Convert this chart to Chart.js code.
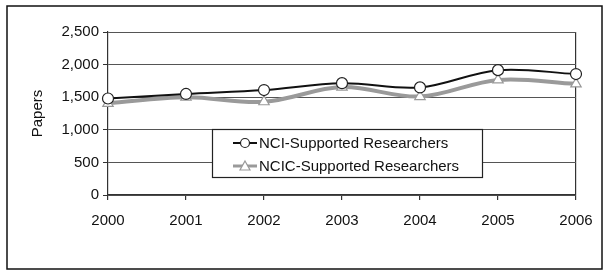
<!DOCTYPE html>
<html>
<head>
<meta charset="utf-8">
<script src="https://cdn.jsdelivr.net/npm/chart.js@4/dist/chart.umd.min.js"></script>
<style>
  html, body { margin: 0; padding: 0; background: #fff; }
  #wrap { width: 609px; height: 274px; position: relative; }
</style>
</head>
<body>
<div id="wrap"><canvas id="papersChart"></canvas></div>
<script>
const years = ["2000", "2001", "2002", "2003", "2004", "2005", "2006"];
const nciPapers = [1480, 1550, 1610, 1715, 1650, 1915, 1855];
const ncicPapers = [1405, 1500, 1430, 1655, 1510, 1765, 1705];
const seriesNames = ["NCI-Supported Researchers", "NCIC-Supported Researchers"];
const yMax = 2500;
const yStep = 500;

const FONT = "'Liberation Sans', Arial, sans-serif";

// outer frame + legend box drawn inside the plot
const framePlugin = {
    id: "frame",
    beforeDraw(chart) {
        const c = chart.ctx;
        c.save();
        c.fillStyle = "#fff";
        c.fillRect(0, 0, chart.width, chart.height);
        c.strokeStyle = "#111";
        c.lineWidth = 1.5;
        c.strokeRect(7, 6, chart.width - 14, chart.height - 11);
        c.restore();
    },
    afterDraw(chart) {
        const c = chart.ctx;
        const area = chart.chartArea;
        const x0 = area.left + 104;
        const y0 = area.top + 97;
        const w = 270, h = 48;
        c.save();
        c.fillStyle = "#fff";
        c.fillRect(x0, y0, w, h);
        c.strokeStyle = "#222";
        c.lineWidth = 1.2;
        c.strokeRect(x0 + 0.5, y0 + 0.5, w, h);
        c.font = "15px " + FONT;
        c.textBaseline = "middle";
        chart.data.datasets.forEach((ds, i) => {
            const cy = y0 + 14 + i * 23;
            c.strokeStyle = ds.borderColor;
            c.lineWidth = i === 0 ? 2 : 3;
            c.beginPath();
            c.moveTo(x0 + 21, cy);
            c.lineTo(x0 + 45, cy);
            c.stroke();
            c.fillStyle = "#fff";
            c.lineWidth = 1.2;
            c.strokeStyle = ds.pointBorderColor;
            c.beginPath();
            if (i === 0) {
                c.arc(x0 + 33, cy, 4.5, 0, Math.PI * 2);
            } else {
                c.moveTo(x0 + 33, cy - 5);
                c.lineTo(x0 + 38, cy + 4);
                c.lineTo(x0 + 28, cy + 4);
                c.closePath();
            }
            c.fill();
            c.stroke();
            c.fillStyle = "#111";
            c.fillText(ds.label, x0 + 47, cy + 1);
        });
        c.restore();
    }
};

new Chart(document.getElementById("papersChart"), {
    type: "line",
    data: {
        labels: years,
        datasets: [
            {
                label: seriesNames[0],
                data: nciPapers,
                borderColor: "#111",
                borderWidth: 2,
                pointStyle: "circle",
                pointRadius: 5.5,
                pointBackgroundColor: "#fff",
                pointBorderColor: "#222",
                pointBorderWidth: 1.2,
                tension: 0.35
            },
            {
                label: seriesNames[1],
                data: ncicPapers,
                borderColor: "#9a9a9a",
                borderWidth: 4,
                pointStyle: "triangle",
                pointRadius: 6,
                pointBackgroundColor: "#fff",
                pointBorderColor: "#999",
                pointBorderWidth: 1.2,
                tension: 0.35
            }
        ]
    },
    options: {
        responsive: true,
        maintainAspectRatio: false,
        animation: false,
        layout: { padding: { left: 29, top: 32, right: 33, bottom: 39 } },
        plugins: {
            legend: { display: false },
            tooltip: { enabled: false }
        },
        scales: {
            x: {
                offset: false,
                grid: {
                    color: (ctx) => ctx.index === years.length - 1 ? "#333" : "transparent",
                    tickColor: "#333",
                    tickLength: 5,
                    lineWidth: 1.2
                },
                border: { color: "#333", width: 1.2 },
                ticks: { color: "#111", font: { family: FONT, size: 15 }, padding: 12, maxRotation: 0 },
                afterFit: (scale) => { scale.height = 40; }
            },
            y: {
                min: 0,
                max: yMax,
                grid: { color: "#555", tickColor: "#333", tickLength: 5, lineWidth: 1 },
                border: { color: "#333", width: 1.2 },
                ticks: { stepSize: yStep, color: "#111", font: { family: FONT, size: 15 }, padding: 4 },
                title: { display: true, text: "Papers", color: "#111", font: { family: FONT, size: 15 }, padding: 0 },
                afterFit: (scale) => { scale.width = 79; }
            }
        }
    },
    plugins: [framePlugin]
});
</script>
</body>
</html>
